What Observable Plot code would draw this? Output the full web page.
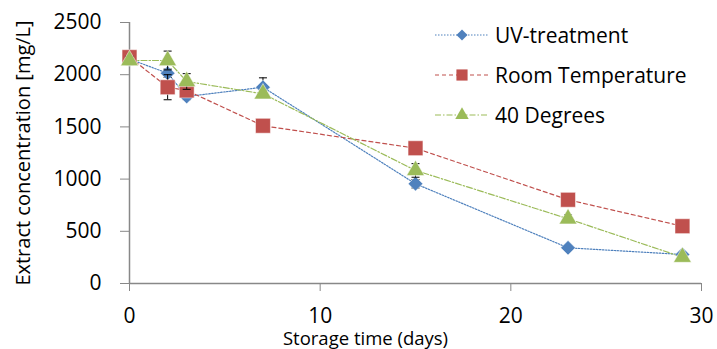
<!DOCTYPE html>
<html><head><meta charset="utf-8">
<script src="https://cdn.jsdelivr.net/npm/d3@7"></script>
<script src="https://cdn.jsdelivr.net/npm/@observablehq/plot@0.6"></script>
<style>
body{margin:0;background:#fff;}
#wrap{position:relative;width:717px;height:349px;font-family:"Open Sans",sans-serif;}
#legend{position:absolute;left:435px;top:15px;font-size:21px;color:#000;}
#legend .row{display:flex;align-items:center;height:40px;}
#legend svg{margin-right:6px;}
</style></head>
<body><div id="wrap"><div id="legend"></div></div>
<script>
const days = [0, 2, 3, 7, 15, 23, 29];
const seriesNames = ["UV-treatment", "Room Temperature", "40 Degrees"];
const uvValues   = [2150, 2014, 1791, 1880, 955, 342, 278];
const uvErrors   = [40, 40, 30, 90, 40, 20, 20];
const roomValues = [2168, 1880, 1849, 1511, 1296, 802, 549];
const roomErrors = [64, 120, 40, 30, 20, 20, 20];
const deg40Values = [2136, 2136, 1935, 1817, 1083, 620, 252];
const deg40Errors = [40, 90, 75, 30, 65, 40, 20];
const xTicks = [0, 10, 20, 30];
const yTicks = [0, 500, 1000, 1500, 2000, 2500];

const colors = {"UV-treatment":"#4F81BD","Room Temperature":"#C0504D","40 Degrees":"#9BBB59"};
const symbols = {"UV-treatment":"diamond2","Room Temperature":"square","40 Degrees":"triangle"};
const sizes = {"UV-treatment":6.6,"Room Temperature":8.4,"40 Degrees":6.6};
const dashes = {"UV-treatment":"1.5,1.5","Room Temperature":"4,3","40 Degrees":"6,2,1.5,2"};

const vals = [uvValues, roomValues, deg40Values];
const errs = [uvErrors, roomErrors, deg40Errors];
const data = [];
seriesNames.forEach((s, i) => days.forEach((d, j) => data.push({series: s, day: d, value: vals[i][j], err: errs[i][j]})));

const cap = {draw(ctx){ ctx.moveTo(-4,0); ctx.lineTo(4,0); }};

const marks = [];
seriesNames.forEach(s => {
  marks.push(Plot.line(data.filter(d => d.series === s), {x:"day", y:"value", stroke: colors[s], strokeWidth: 1.2, strokeDasharray: dashes[s]}));
});
marks.push(Plot.ruleX([0], {stroke:"#888", strokeWidth:1.5}));
marks.push(Plot.ruleY([0], {stroke:"#888", strokeWidth:1.5}));
seriesNames.forEach(s => {
  const ds = data.filter(d => d.series === s);
  marks.push(Plot.ruleX(ds, {x:"day", y1: d => d.value - d.err, y2: d => d.value + d.err, stroke:"black", strokeWidth:1}));
  marks.push(Plot.dot(ds, {x:"day", y: d => d.value + d.err, symbol: cap, stroke:"black", strokeWidth:1}));
  marks.push(Plot.dot(ds, {x:"day", y: d => d.value - d.err, symbol: cap, stroke:"black", strokeWidth:1}));
  marks.push(Plot.dot(ds, {x:"day", y:"value", symbol: symbols[s], r: sizes[s], fill: colors[s], stroke: "white", strokeWidth: 0.5}));
});
marks.push(Plot.axisY({ticks: yTicks, tickSize: 9, tickPadding: 19, stroke:"#888", label: null, fontSize: 21, tickFormat: d => String(d)}));
marks.push(Plot.axisX({ticks: xTicks, tickSize: 8, tickPadding: 17, stroke:"#888", label: null, fontSize: 21, tickFormat: d => String(d)}));
marks.push(Plot.text(["Extract concentration [mg/L]"], {frameAnchor:"left", textAnchor:"middle", lineAnchor:"middle", rotate:-90, dx:-106, fontSize: 20}));
marks.push(Plot.text(["Storage time (days)"], {frameAnchor:"bottom", textAnchor:"middle", lineAnchor:"middle", dx:-50, dy:56, fontSize: 18.5}));

const chart = Plot.plot({
  width: 717, height: 349,
  marginLeft: 129, marginRight: 16, marginTop: 22, marginBottom: 66,
  style: {fontFamily: "Open Sans, sans-serif", fontSize: "21px", color: "black", background: "white", overflow: "visible"},
  x: {domain: [0, 30], axis: null},
  y: {domain: [0, 2500], axis: null},
  marks
});
document.getElementById("wrap").prepend(chart);

const legend = document.getElementById("legend");
seriesNames.forEach(s => {
  const row = document.createElement("div"); row.className = "row";
  const sv = d3.create("svg").attr("width", 54).attr("height", 20);
  sv.append("line").attr("x1",0).attr("x2",54).attr("y1",10).attr("y2",10).attr("stroke",colors[s]).attr("stroke-width",1.2).attr("stroke-dasharray",dashes[s]);
  const symMap = {"diamond2": d3.symbolDiamond2, "square": d3.symbolSquare, "triangle": d3.symbolTriangle};
  const r = s === "Room Temperature" ? 6.3 : 5;
  sv.append("path").attr("transform","translate(27,10)").attr("d", d3.symbol(symMap[symbols[s]], Math.PI*r*r)()).attr("fill", colors[s]);
  row.appendChild(sv.node());
  const t = document.createElement("span"); t.textContent = s;
  row.appendChild(t);
  legend.appendChild(row);
});
</script></body></html>
